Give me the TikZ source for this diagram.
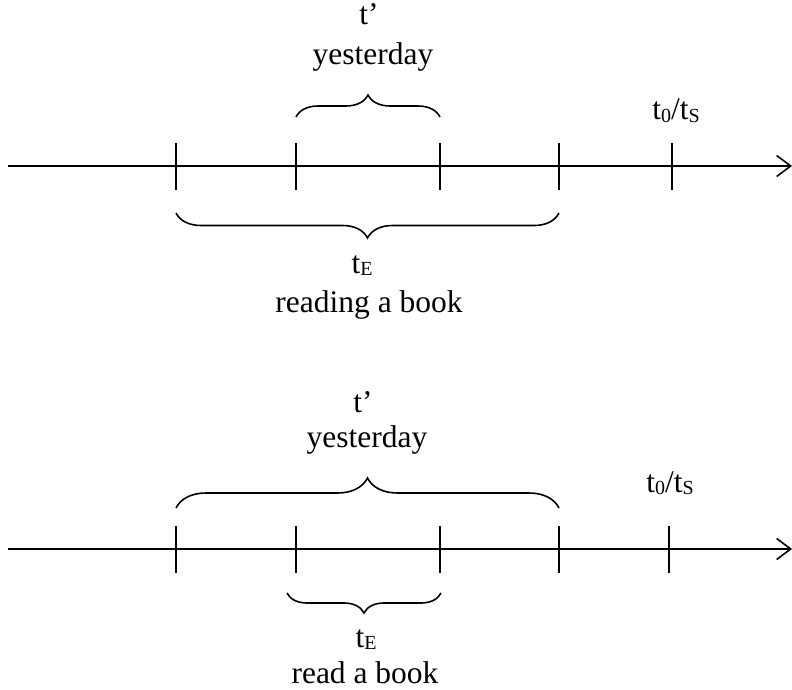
\documentclass[tikz,border=0pt]{standalone}
\usepackage{fontspec}
\setmainfont{Liberation Serif}
\usetikzlibrary{decorations.pathreplacing,arrows.meta}
\newcommand\subtxt[1]{\raisebox{-2.5pt}{\fontsize{20}{20}\selectfont #1}}
\tikzset{
  axisline/.style={line width=1.6pt,-{Straight Barb[length=14pt,width=21pt,line width=1.6pt]}},
  tickmark/.style={line width=1.6pt},
  bracepath/.style={decorate,decoration={brace,amplitude=#1},line width=1.6pt},
  lbl/.style={anchor=base,inner sep=0pt,font=\fontsize{31.5}{36}\selectfont},
}
\begin{document}
\begin{tikzpicture}[x=1pt,y=-1pt]
\useasboundingbox (0,0) rectangle (792,690);
% ---------- top panel ----------
\coordinate (a1s) at (8,166);
\coordinate (a1e) at (792,166);
\draw[axisline] (a1s) -- (a1e);
\foreach \n/\x in {1/176,2/296,3/440,4/559,5/672}{
  \coordinate (p\n) at (\x,166);
  \draw[tickmark] ([yshift=23.5pt]p\n) -- ([yshift=-23.5pt]p\n);
}
\coordinate (b1l) at (296,117);
\coordinate (b1r) at (440,117);
\draw[bracepath=22pt] (b1l) -- (b1r);
\coordinate (b2l) at (176,213);
\coordinate (b2r) at (559,213);
\draw[bracepath=25pt] (b2r) -- (b2l);
\node[lbl] (tp1) at (369,25) {t’};
\node[lbl] (y1) at (373,65) {yesterday};
\node[lbl] (ts1) at (676,120) {t\subtxt{0}/t\subtxt{S}};
\node[lbl] (te1) at (362,273) {t\subtxt{E}};
\node[lbl] (r1) at (369,312) {reading a book};
% ---------- bottom panel ----------
\coordinate (a2s) at (8,549);
\coordinate (a2e) at (792,549);
\draw[axisline] (a2s) -- (a2e);
\foreach \n/\x in {1/176,2/296,3/440,4/559,5/669}{
  \coordinate (q\n) at (\x,549);
  \draw[tickmark] ([yshift=23.5pt]q\n) -- ([yshift=-23.5pt]q\n);
}
\coordinate (b3l) at (176,508);
\coordinate (b3r) at (559,508);
\draw[bracepath=30pt] (b3l) -- (b3r);
\coordinate (b4l) at (287,593);
\coordinate (b4r) at (441,593);
\draw[bracepath=20pt] (b4r) -- (b4l);
\node[lbl] (tp2) at (363,412) {t’};
\node[lbl] (y2) at (367,447) {yesterday};
\node[lbl] (ts2) at (670,492) {t\subtxt{0}/t\subtxt{S}};
\node[lbl] (te2) at (366,647) {t\subtxt{E}};
\node[lbl] (r2) at (365,683) {read a book};
\end{tikzpicture}
\end{document}
